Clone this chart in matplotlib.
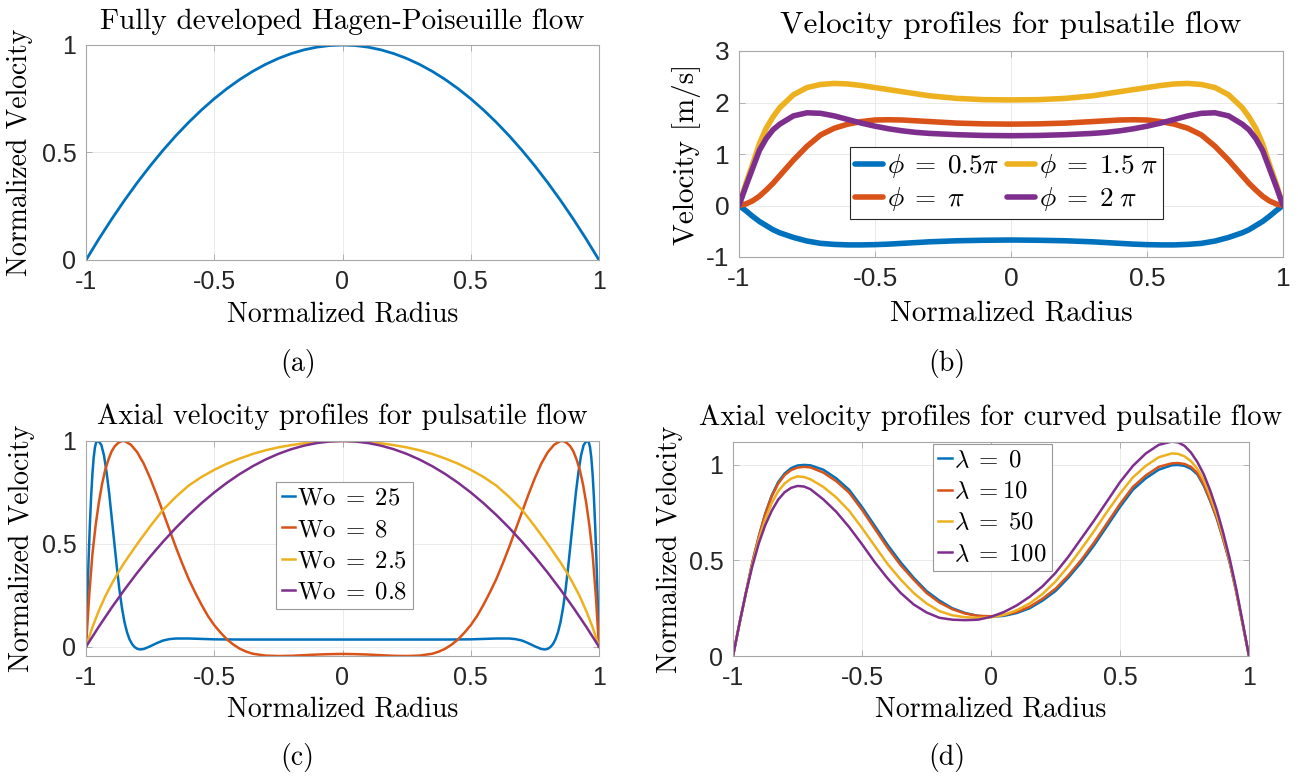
import matplotlib
matplotlib.use('Agg')
import matplotlib.pyplot as plt

# --- Style Configuration ---
plt.rcParams['font.family'] = ['Liberation Sans', 'DejaVu Sans']
plt.rcParams['mathtext.fontset'] = 'cm'
plt.rcParams['axes.unicode_minus'] = False

SERIF = 'cmr10'
COLORS = ['#0072BD', '#D95319', '#EDB120', '#7E2F8E']
BOX_COLOR = '#a6a6a6'
TICK_TEXT = '#262626'

# --- Data ---
# (a) Hagen-Poiseuille
r_a = [-1.0, -0.95, -0.9, -0.85, -0.8, -0.75, -0.7, -0.65, -0.6, -0.55, -0.5,
       -0.45, -0.4, -0.35, -0.3, -0.25, -0.2, -0.15, -0.1, -0.05, 0.0,
       0.05, 0.1, 0.15, 0.2, 0.25, 0.3, 0.35, 0.4, 0.45, 0.5,
       0.55, 0.6, 0.65, 0.7, 0.75, 0.8, 0.85, 0.9, 0.95, 1.0]
hp_velocity = [0.0, 0.0975, 0.19, 0.2775, 0.36, 0.4375, 0.51, 0.5775, 0.64, 0.6975, 0.75,
               0.7975, 0.84, 0.8775, 0.91, 0.9375, 0.96, 0.9775, 0.99, 0.9975, 1.0,
               0.9975, 0.99, 0.9775, 0.96, 0.9375, 0.91, 0.8775, 0.84, 0.7975, 0.75,
               0.6975, 0.64, 0.5775, 0.51, 0.4375, 0.36, 0.2775, 0.19, 0.0975, 0.0]

# (b) pulsatile velocity profiles [m/s]
r_b = [-1.0, -0.975, -0.95, -0.925, -0.9, -0.875, -0.85, -0.8, -0.75, -0.7, -0.65,
       -0.6, -0.55, -0.5, -0.45, -0.4, -0.35, -0.3, -0.2, -0.1, 0.0,
       0.1, 0.2, 0.3, 0.35, 0.4, 0.45, 0.5, 0.55, 0.6, 0.65,
       0.7, 0.75, 0.8, 0.85, 0.875, 0.9, 0.925, 0.95, 0.975, 1.0]
vel_half_pi = [0.0, -0.1, -0.21, -0.31, -0.39, -0.47, -0.53, -0.62, -0.69, -0.735, -0.755,
               -0.765, -0.765, -0.76, -0.75, -0.735, -0.72, -0.705, -0.685, -0.675, -0.67,
               -0.675, -0.685, -0.705, -0.72, -0.735, -0.75, -0.76, -0.765, -0.765, -0.755,
               -0.735, -0.69, -0.62, -0.53, -0.47, -0.39, -0.31, -0.21, -0.1, 0.0]
vel_pi = [0.0, 0.03, 0.09, 0.18, 0.3, 0.43, 0.58, 0.88, 1.15, 1.37, 1.5,
          1.58, 1.63, 1.66, 1.665, 1.66, 1.645, 1.63, 1.6, 1.585, 1.58,
          1.585, 1.6, 1.63, 1.645, 1.66, 1.665, 1.66, 1.63, 1.58, 1.5,
          1.37, 1.15, 0.88, 0.58, 0.43, 0.3, 0.18, 0.09, 0.03, 0.0]
vel_1_5pi = [0.0, 0.42, 0.8, 1.2, 1.5, 1.72, 1.9, 2.15, 2.29, 2.35, 2.37,
             2.36, 2.33, 2.29, 2.25, 2.21, 2.17, 2.13, 2.08, 2.055, 2.05,
             2.055, 2.08, 2.13, 2.17, 2.21, 2.25, 2.29, 2.33, 2.36, 2.37,
             2.35, 2.29, 2.15, 1.9, 1.72, 1.5, 1.2, 0.8, 0.42, 0.0]
vel_2pi = [0.0, 0.37, 0.72, 1.07, 1.3, 1.47, 1.58, 1.74, 1.8, 1.79, 1.74,
           1.67, 1.6, 1.54, 1.49, 1.45, 1.42, 1.4, 1.375, 1.36, 1.355,
           1.36, 1.375, 1.4, 1.42, 1.45, 1.49, 1.54, 1.6, 1.67, 1.74,
           1.79, 1.8, 1.74, 1.58, 1.47, 1.3, 1.07, 0.72, 0.37, 0.0]
labels_b = [r'$\phi\;=\;0.5\pi$', r'$\phi\;=\;\pi$', r'$\phi\;=\;1.5\;\pi$', r'$\phi\;=\;2\;\pi$']

# (c) Womersley profiles (normalized)
r_wo25 = [-1.0, -0.995, -0.99, -0.985, -0.98, -0.975, -0.97, -0.965, -0.96, -0.955, -0.95,
          -0.94, -0.93, -0.92, -0.91, -0.9, -0.89, -0.88, -0.87, -0.86, -0.85, -0.84,
          -0.83, -0.82, -0.81, -0.8, -0.79, -0.775, -0.75, -0.725, -0.7, -0.675, -0.65,
          -0.6, -0.55, -0.5, -0.4, -0.2, 0.0, 0.2, 0.4, 0.5, 0.55, 0.6,
          0.65, 0.675, 0.7, 0.725, 0.75, 0.775, 0.79, 0.8, 0.81, 0.82, 0.83,
          0.84, 0.85, 0.86, 0.87, 0.88, 0.89, 0.9, 0.91, 0.92, 0.93, 0.94,
          0.95, 0.955, 0.96, 0.965, 0.97, 0.975, 0.98, 0.985, 0.99, 0.995, 1.0]
v_wo25 = [0.0, 0.22, 0.42, 0.59, 0.73, 0.84, 0.92, 0.97, 0.995, 1.0, 0.998,
          0.98, 0.93, 0.85, 0.75, 0.63, 0.51, 0.39, 0.28, 0.19, 0.12, 0.07,
          0.035, 0.012, -0.002, -0.01, -0.013, -0.011, 0.002, 0.017, 0.03, 0.037, 0.04,
          0.04, 0.038, 0.036, 0.035, 0.035, 0.035, 0.035, 0.035, 0.036, 0.038, 0.04,
          0.04, 0.037, 0.03, 0.017, 0.002, -0.011, -0.013, -0.01, -0.002, 0.012, 0.035,
          0.07, 0.12, 0.19, 0.28, 0.39, 0.51, 0.63, 0.75, 0.85, 0.93, 0.98,
          0.998, 1.0, 0.995, 0.97, 0.92, 0.84, 0.73, 0.59, 0.42, 0.22, 0.0]
r_wo8 = [-1.0, -0.9875, -0.975, -0.9625, -0.95, -0.9375, -0.925, -0.9125, -0.9, -0.8875,
         -0.875, -0.8625, -0.85, -0.825, -0.8, -0.775, -0.75, -0.725, -0.7, -0.675,
         -0.65, -0.625, -0.6, -0.575, -0.55, -0.525, -0.5, -0.475, -0.45, -0.425,
         -0.4, -0.375, -0.35, -0.3, -0.25, -0.2, -0.15, -0.1, -0.05, 0.0,
         0.05, 0.1, 0.15, 0.2, 0.25, 0.3, 0.35, 0.375, 0.4, 0.425,
         0.45, 0.475, 0.5, 0.525, 0.55, 0.575, 0.6, 0.625, 0.65, 0.675,
         0.7, 0.725, 0.75, 0.775, 0.8, 0.825, 0.85, 0.8625, 0.875, 0.8875,
         0.9, 0.9125, 0.925, 0.9375, 0.95, 0.9625, 0.975, 0.9875, 1.0]
v_wo8 = [0.0, 0.25, 0.45, 0.59, 0.7, 0.79, 0.86, 0.91, 0.95, 0.975,
         0.99, 0.999, 1.0, 0.982, 0.945, 0.89, 0.82, 0.74, 0.655, 0.57,
         0.485, 0.405, 0.33, 0.265, 0.205, 0.15, 0.105, 0.068, 0.035, 0.01,
         -0.01, -0.024, -0.034, -0.043, -0.045, -0.044, -0.041, -0.038, -0.036, -0.035,
         -0.036, -0.038, -0.041, -0.044, -0.045, -0.043, -0.034, -0.024, -0.01, 0.01,
         0.035, 0.068, 0.105, 0.15, 0.205, 0.265, 0.33, 0.405, 0.485, 0.57,
         0.655, 0.74, 0.82, 0.89, 0.945, 0.982, 1.0, 0.999, 0.99, 0.975,
         0.95, 0.91, 0.86, 0.79, 0.7, 0.59, 0.45, 0.25, 0.0]
r_wo2_5 = [-1.0, -0.975, -0.95, -0.925, -0.9, -0.875, -0.85, -0.8, -0.75, -0.7, -0.65,
           -0.6, -0.55, -0.5, -0.45, -0.4, -0.35, -0.3, -0.25, -0.2, -0.15, -0.1, -0.05, 0.0,
           0.05, 0.1, 0.15, 0.2, 0.25, 0.3, 0.35, 0.4, 0.45, 0.5, 0.55, 0.6,
           0.65, 0.7, 0.75, 0.8, 0.85, 0.875, 0.9, 0.925, 0.95, 0.975, 1.0]
v_wo2_5 = [0.0, 0.095, 0.175, 0.245, 0.305, 0.36, 0.41, 0.5, 0.585, 0.665, 0.728,
           0.783, 0.825, 0.86, 0.89, 0.915, 0.937, 0.955, 0.969, 0.98, 0.989, 0.995, 0.999, 1.0,
           0.999, 0.995, 0.989, 0.98, 0.969, 0.955, 0.937, 0.915, 0.89, 0.86, 0.825, 0.783,
           0.728, 0.665, 0.585, 0.5, 0.41, 0.36, 0.305, 0.245, 0.175, 0.095, 0.0]
r_wo0_8 = r_a
v_wo0_8 = [0.0, 0.0975, 0.19, 0.2775, 0.36, 0.4375, 0.51, 0.5775, 0.64, 0.6975, 0.75,
           0.7975, 0.84, 0.8775, 0.91, 0.9375, 0.96, 0.9775, 0.99, 0.9975, 1.0,
           0.9975, 0.99, 0.9775, 0.96, 0.9375, 0.91, 0.8775, 0.84, 0.7975, 0.75,
           0.6975, 0.64, 0.5775, 0.51, 0.4375, 0.36, 0.2775, 0.19, 0.0975, 0.0]
labels_c = [r'$\mathrm{Wo}\;=\;25$', r'$\mathrm{Wo}\;=\;8$', r'$\mathrm{Wo}\;=\;2.5$', r'$\mathrm{Wo}\;=\;0.8$']

# (d) curved pulsatile flow (normalized)
r_d = [-1.0, -0.975, -0.95, -0.925, -0.9, -0.875, -0.85, -0.825, -0.8, -0.775, -0.75, -0.725, -0.7,
       -0.65, -0.6, -0.55, -0.5, -0.45, -0.4, -0.35, -0.3, -0.25, -0.2, -0.15, -0.1, -0.05, 0.0,
       0.05, 0.1, 0.15, 0.2, 0.25, 0.3, 0.35, 0.4, 0.45, 0.5, 0.55, 0.6, 0.65,
       0.7, 0.725, 0.75, 0.775, 0.8, 0.825, 0.85, 0.875, 0.9, 0.925, 0.95, 0.975, 1.0]
v_lam0 = [0.0, 0.17, 0.33, 0.49, 0.625, 0.745, 0.84, 0.91, 0.955, 0.983, 0.997, 1.0, 0.998,
          0.975, 0.93, 0.87, 0.78, 0.68, 0.58, 0.49, 0.41, 0.34, 0.29, 0.25, 0.225, 0.21, 0.205,
          0.21, 0.225, 0.25, 0.29, 0.34, 0.41, 0.49, 0.58, 0.68, 0.78, 0.87, 0.93, 0.975,
          0.998, 1.0, 0.995, 0.98, 0.95, 0.89, 0.81, 0.72, 0.61, 0.49, 0.34, 0.17, 0.0]
v_lam10 = [0.0, 0.17, 0.33, 0.49, 0.625, 0.742, 0.835, 0.902, 0.947, 0.973, 0.986, 0.99, 0.987,
           0.96, 0.915, 0.855, 0.765, 0.665, 0.565, 0.475, 0.4, 0.33, 0.28, 0.245, 0.222, 0.21, 0.208,
           0.215, 0.23, 0.258, 0.3, 0.352, 0.422, 0.503, 0.595, 0.695, 0.795, 0.885, 0.945, 0.99,
           1.008, 1.01, 1.005, 0.99, 0.958, 0.897, 0.815, 0.724, 0.613, 0.492, 0.341, 0.171, 0.0]
v_lam50 = [0.0, 0.17, 0.33, 0.48, 0.61, 0.715, 0.8, 0.862, 0.903, 0.928, 0.94, 0.937, 0.925,
           0.885, 0.83, 0.76, 0.67, 0.575, 0.48, 0.4, 0.33, 0.275, 0.235, 0.213, 0.203, 0.2, 0.203,
           0.215, 0.24, 0.275, 0.325, 0.39, 0.47, 0.56, 0.655, 0.755, 0.85, 0.935, 0.995, 1.04,
           1.06, 1.058, 1.045, 1.02, 0.98, 0.92, 0.835, 0.74, 0.625, 0.5, 0.345, 0.173, 0.0]
v_lam100 = [0.0, 0.17, 0.33, 0.47, 0.59, 0.685, 0.76, 0.818, 0.857, 0.88, 0.89, 0.887, 0.873,
            0.82, 0.755, 0.675, 0.585, 0.49, 0.405, 0.33, 0.27, 0.228, 0.2, 0.19, 0.1875, 0.19, 0.205,
            0.23, 0.265, 0.31, 0.365, 0.435, 0.52, 0.615, 0.71, 0.81, 0.91, 0.995, 1.06, 1.105,
            1.122, 1.118, 1.1, 1.065, 1.015, 0.95, 0.865, 0.765, 0.645, 0.51, 0.355, 0.18, 0.0]
labels_d = [r'$\lambda\;=\;0$', r'$\lambda\;=$10', r'$\lambda\;=\;50$', r'$\lambda\;=\;100$']

x_ticks = [-1, -0.5, 0, 0.5, 1]
x_tick_labels = ['-1', '-0.5', '0', '0.5', '1']
y_ticks_norm = [0, 0.5, 1]
y_tick_labels_norm = ['0', '0.5', '1']
y_ticks_b = [-1, 0, 1, 2, 3]
y_tick_labels_b = ['-1', '0', '1', '2', '3']


def style_axes(ax, yticks, ylabels, ylim, title, ylabel, title_pad, xlab_y, ylab_x,
               tick_fs=18, title_fs=21, label_fs=20):
    ax.set_xlim(-1, 1)
    ax.set_ylim(*ylim)
    ax.set_xticks(x_ticks)
    ax.set_xticklabels(x_tick_labels)
    ax.set_yticks(yticks)
    ax.set_yticklabels(ylabels)
    ax.tick_params(direction='in', length=4, width=0.6, color=BOX_COLOR,
                   labelcolor=TICK_TEXT, labelsize=tick_fs, top=True, right=True, pad=7)
    ax.grid(True, color='#e6e6e6', linewidth=0.6)
    ax.set_axisbelow(True)
    for s in ax.spines.values():
        s.set_color(BOX_COLOR)
        s.set_linewidth(0.8)
    ax.set_title(title, fontfamily=SERIF, fontsize=title_fs, pad=title_pad)
    ax.set_xlabel('Normalized Radius', fontfamily=SERIF, fontsize=label_fs)
    ax.set_ylabel(ylabel, fontfamily=SERIF, fontsize=label_fs)
    ax.xaxis.set_label_coords(0.5, xlab_y)
    ax.yaxis.set_label_coords(ylab_x, 0.5)


def add_legend(ax, anchor, size, edge, **kw):
    leg = ax.legend(loc='upper left', bbox_to_anchor=anchor, borderaxespad=0,
                    prop={'family': SERIF, 'size': size}, fancybox=False, framealpha=1,
                    edgecolor=edge, **kw)
    leg.get_frame().set_linewidth(0.8)
    return leg


fig = plt.figure(figsize=(12.98, 7.76), dpi=100, facecolor='white')
W, H = 1298.0, 776.0

def px_axes(left, top, right, bottom):
    return fig.add_axes([left / W, 1 - bottom / H, (right - left) / W, (bottom - top) / H])

ax_a = px_axes(86, 45, 599, 260)
ax_b = px_axes(739, 51, 1283, 257)
ax_c = px_axes(86, 441, 599, 656)
ax_d = px_axes(733, 442, 1249, 656)

# (a)
ax_a.plot(r_a, hp_velocity, color=COLORS[0], lw=2)
style_axes(ax_a, y_ticks_norm, y_tick_labels_norm, (0, 1),
           'Fully developed Hagen-Poiseuille flow', 'Normalized Velocity', 11.5, -0.19, -0.103)

# (b)
for vals, c, lab in zip([vel_half_pi, vel_pi, vel_1_5pi, vel_2pi], COLORS, labels_b):
    ax_b.plot(r_b, vals, color=c, lw=4, label=lab, solid_capstyle='round')
style_axes(ax_b, y_ticks_b, y_tick_labels_b, (-1, 3),
           'Velocity profiles for pulsatile flow', 'Velocity [m/s]', 13, -0.21, -0.069,
           tick_fs=19, title_fs=22.5, label_fs=21)
add_legend(ax_b, (0.204, 0.534), 19.6, '#262626', ncol=2, handlelength=1.0,
           handletextpad=0.15, columnspacing=0.3, labelspacing=0.18, borderpad=0.2)

# (c)
for rr, vals, c, lab in zip([r_wo25, r_wo8, r_wo2_5, r_wo0_8], [v_wo25, v_wo8, v_wo2_5, v_wo0_8],
                            COLORS, labels_c):
    ax_c.plot(rr, vals, color=c, lw=1.8, label=lab)
style_axes(ax_c, y_ticks_norm, y_tick_labels_norm, (-0.045, 1),
           'Axial velocity profiles for pulsatile flow', 'Normalized Velocity', 12, -0.186, -0.099,
           title_fs=20.5)
add_legend(ax_c, (0.371, 0.809), 17.8, '#999999', handlelength=0.55, handletextpad=0.08,
           labelspacing=0.36, borderpad=0.22)

# (d)
for vals, c, lab in zip([v_lam0, v_lam10, v_lam50, v_lam100], COLORS, labels_d):
    ax_d.plot(r_d, vals, color=c, lw=1.8, label=lab)
style_axes(ax_d, y_ticks_norm, y_tick_labels_norm, (0, 1.12),
           'Axial velocity profiles for curved pulsatile flow', 'Normalized Velocity', 12.5, -0.187, -0.096,
           title_fs=20.5)
add_legend(ax_d, (0.387, 0.989), 17.8, '#999999', handlelength=0.55, handletextpad=0.08,
           labelspacing=0.36, borderpad=0.22)

# sub-captions
for x, y, s in [(298, 364, '(a)'), (947, 364, '(b)'), (297, 758, '(c)'), (947, 758, '(d)')]:
    fig.text(x / W, 1 - y / H, s, fontfamily=SERIF, fontsize=20, ha='center', va='center')

fig.savefig('out.png', dpi=100, facecolor='white')
